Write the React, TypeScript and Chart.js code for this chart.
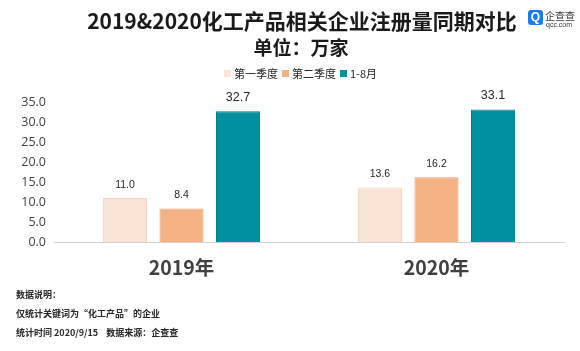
import React, { useEffect, useRef } from "react";
import { Chart, registerables } from "chart.js";

Chart.register(...registerables);

const categories = ["2019年", "2020年"];
const seriesNames = ["第一季度", "第二季度", "1-8月"];
const q1Values = [11.0, 13.6];
const q2Values = [8.4, 16.2];
const janAugValues = [32.7, 33.1];
const yTicks = [0, 5, 10, 15, 20, 25, 30, 35];

const fills = ["#FBE4D5", "#F4B183", "#00919F"];
const borders = ["#F7D6C2", "#EBA070", "#007F8B"];

const CJK = '"Noto Sans CJK SC", "Noto Sans", sans-serif';

const valueLabels = {
  id: "valueLabels",
  afterDatasetsDraw(chart: any) {
    const ctx = chart.ctx;
    ctx.save();
    chart.data.datasets.forEach((ds: any, di: number) => {
      const meta = chart.getDatasetMeta(di);
      meta.data.forEach((bar: any, i: number) => {
        const big = di === 2;
        ctx.font = `${big ? 12.5 : 10.5}px "Liberation Sans", Arial, sans-serif`;
        ctx.fillStyle = "#262626";
        ctx.textAlign = "center";
        ctx.textBaseline = "middle";
        ctx.fillText(Number(ds.data[i]).toFixed(1), bar.x, bar.y - (big ? 14 : 13));
      });
    });
    ctx.restore();
  },
};

export default function App() {
  const ref = useRef<HTMLCanvasElement>(null);

  useEffect(() => {
    document.body.style.margin = "0";
    const chart = new Chart(ref.current!, {
      type: "bar",
      data: {
        labels: categories,
        datasets: [q1Values, q2Values, janAugValues].map((d, i) => ({
          label: seriesNames[i],
          data: d,
          backgroundColor: fills[i],
          borderColor: borders[i],
          borderWidth: 1,
          categoryPercentage: 0.665,
          barPercentage: 0.78,
        })),
      },
      options: {
        responsive: false,
        animation: false,
        layout: { padding: { top: 102, right: 16, left: 0, bottom: 0 } },
        plugins: {
          legend: { display: false },
          tooltip: { enabled: false },
          title: { display: false },
        },
        scales: {
          x: {
            grid: { display: false, drawTicks: false },
            border: { display: true, color: "#D0D0D0", width: 1 },
            ticks: {
              color: "#404040",
              font: { family: CJK, size: 19.5, weight: "bold" },
              padding: 14,
            },
            afterFit: (s: any) => {
              s.height = 109;
            },
          },
          y: {
            min: 0,
            max: 35,
            afterBuildTicks: (s: any) => {
              s.ticks = yTicks.map((v) => ({ value: v }));
            },
            grid: { display: false, drawTicks: false },
            border: { display: false },
            ticks: {
              color: "#404040",
              font: { family: '"Open Sans", "Noto Sans", sans-serif', size: 12.5 },
              padding: 8,
              callback: (v: any) => Number(v).toFixed(1),
            },
            afterFit: (s: any) => {
              s.width = 54;
            },
          },
        },
      },
      plugins: [valueLabels],
    });
    return () => chart.destroy();
  }, []);

  const noteStyle: React.CSSProperties = {
    position: "absolute",
    left: 16,
    fontFamily: CJK,
    fontSize: 9,
    fontWeight: 600,
    color: "#262626",
    whiteSpace: "nowrap",
    lineHeight: "12px",
  };

  return (
    <div
      style={{
        position: "absolute",
        left: 0,
        top: 0,
        width: 580,
        height: 351,
        background: "#ffffff",
        overflow: "hidden",
      }}
    >
      <canvas ref={ref} width={580} height={351} style={{ position: "absolute", left: 0, top: 0 }} />
      <div
        style={{
          position: "absolute",
          left: 0,
          width: 604,
          top: 5,
          textAlign: "center",
          fontFamily: CJK,
          fontWeight: 700,
          fontSize: 21,
          lineHeight: "30px",
          color: "#1a1a1a",
          whiteSpace: "nowrap",
        }}
      >
        2019&amp;2020化工产品相关企业注册量同期对比
      </div>
      <div
        style={{
          position: "absolute",
          left: 0,
          width: 602,
          top: 34,
          textAlign: "center",
          fontFamily: CJK,
          fontWeight: 700,
          fontSize: 19,
          lineHeight: "26px",
          color: "#1a1a1a",
        }}
      >
        单位：万家
      </div>
      <div
        style={{
          position: "absolute",
          left: 224,
          top: 66,
          display: "flex",
          alignItems: "center",
          fontFamily: CJK,
          fontSize: 11,
          lineHeight: "14px",
          color: "#262626",
          whiteSpace: "nowrap",
        }}
      >
        {seriesNames.map((n, i) => (
          <span key={n} style={{ display: "flex", alignItems: "center", marginRight: 4 }}>
            <span
              style={{
                display: "inline-block",
                width: 7,
                height: 7,
                background: fills[i],
                marginRight: 3,
              }}
            />
            {n}
          </span>
        ))}
      </div>
      <div style={{ position: "absolute", left: 528, top: 10 }}>
        <div
          style={{
            position: "absolute",
            left: 0,
            top: 0,
            width: 15,
            height: 15,
            borderRadius: 3,
            background: "#1E7CF2",
            color: "#fff",
            fontFamily: '"Liberation Sans", sans-serif',
            fontWeight: 700,
            fontSize: 12,
            lineHeight: "15px",
            textAlign: "center",
          }}
        >
          Q
        </div>
        <div
          style={{
            position: "absolute",
            left: 17,
            top: -1,
            fontFamily: CJK,
            fontSize: 10,
            lineHeight: "13px",
            color: "#333",
            whiteSpace: "nowrap",
          }}
        >
          企查查
        </div>
        <div
          style={{
            position: "absolute",
            left: 18,
            top: 11,
            fontFamily: '"Liberation Sans", sans-serif',
            fontSize: 7,
            lineHeight: "8px",
            color: "#333",
            whiteSpace: "nowrap",
          }}
        >
          qcc.com
        </div>
      </div>
      <div style={{ ...noteStyle, top: 289 }}>数据说明：</div>
      <div style={{ ...noteStyle, top: 308 }}>仅统计关键词为“化工产品”的企业</div>
      <div style={{ ...noteStyle, top: 327 }}>
        统计时间 2020/9/15&nbsp;&nbsp;&nbsp;&nbsp;数据来源：企查查
      </div>
    </div>
  );
}
